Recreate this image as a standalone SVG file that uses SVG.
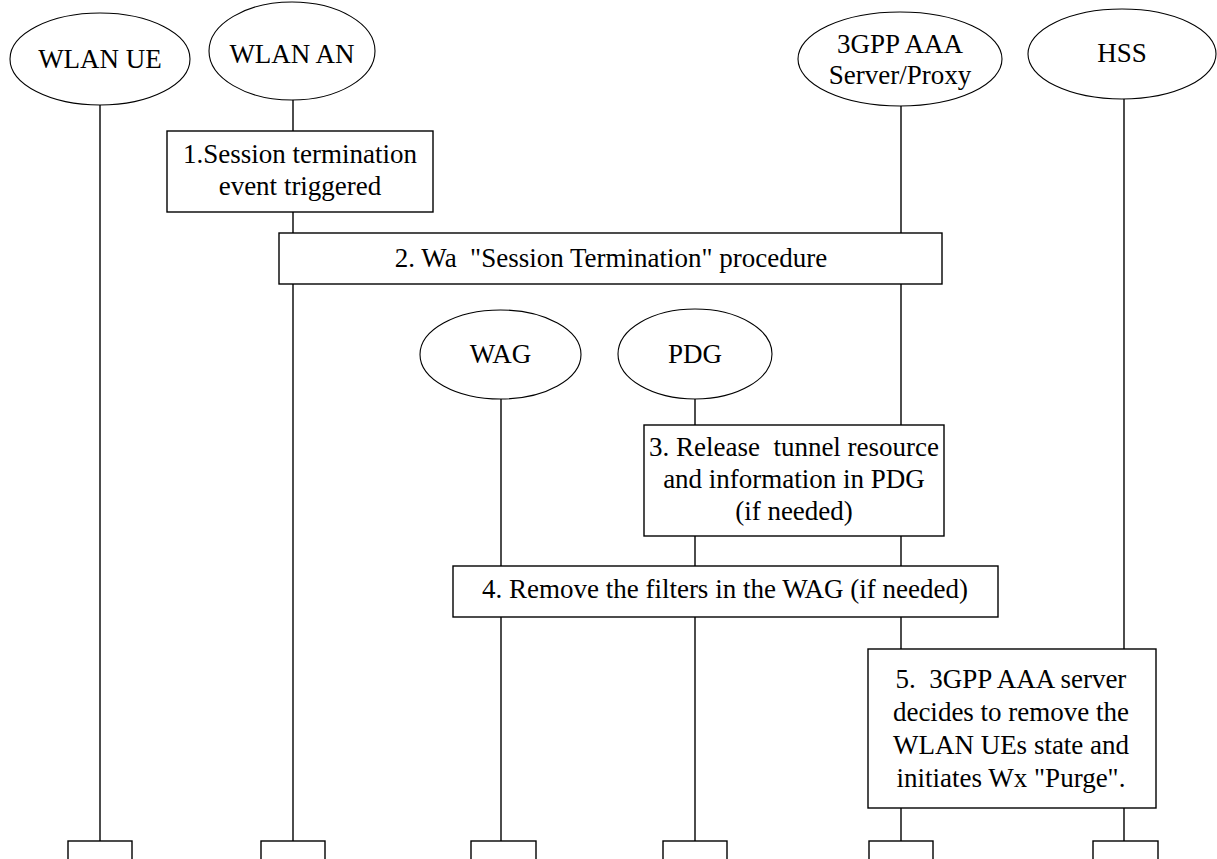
<svg xmlns="http://www.w3.org/2000/svg" width="1217" height="859" viewBox="0 0 1217 859">
<style>
.bg{fill:#fff}
.ell{fill:#fff;stroke:#000;stroke-width:1.1}
.box{fill:#fff;stroke:#000;stroke-width:1.4}
.ll{stroke:#000;stroke-width:1.4;fill:none}
text{font-family:'Liberation Serif','Times New Roman','DejaVu Serif',serif;font-size:27px;fill:#000;text-anchor:middle;white-space:pre}
</style>
<rect class="bg" x="0" y="0" width="1217" height="859"/>
<g id="connectors">
<line class="ll" x1="100" y1="105" x2="100" y2="841"/>
<line class="ll" x1="293" y1="100" x2="293" y2="841"/>
<line class="ll" x1="501" y1="399" x2="501" y2="841"/>
<line class="ll" x1="695" y1="399" x2="695" y2="841"/>
<line class="ll" x1="901" y1="106" x2="901" y2="841"/>
<line class="ll" x1="1124" y1="98" x2="1124" y2="841"/>
</g>
<g id="wlan-ue" font-family="Liberation Serif, serif">
<ellipse class="ell" cx="100" cy="59" rx="90" ry="46"/>
<text x="100" y="68">WLAN UE</text>
</g>
<g id="wlan-an">
<ellipse class="ell" cx="292" cy="51" rx="83" ry="49"/>
<text x="292" y="63">WLAN AN</text>
</g>
<g id="aaa">
<ellipse class="ell" cx="900" cy="59" rx="102" ry="47"/>
<text x="900" y="53">3GPP AAA</text>
<text x="900" y="84">Server/Proxy</text>
</g>
<g id="hss">
<ellipse class="ell" cx="1122" cy="54" rx="94" ry="45"/>
<text x="1122" y="62">HSS</text>
</g>
<g id="wag">
<ellipse class="ell" cx="500.5" cy="354.5" rx="80.5" ry="44.5"/>
<text x="500.5" y="363">WAG</text>
</g>
<g id="pdg">
<ellipse class="ell" cx="695" cy="354" rx="77" ry="45"/>
<text x="695" y="363">PDG</text>
</g>
<g id="step1">
<rect class="box" x="167" y="131" width="266" height="81"/>
<text x="300" y="163">1.Session termination</text>
<text x="300" y="195">event triggered</text>
</g>
<g id="step2">
<rect class="box" x="279" y="233" width="663" height="51"/>
<text x="611" y="267">2. Wa  "Session Termination" procedure</text>
</g>
<g id="step3">
<rect class="box" x="644" y="425" width="300" height="111"/>
<text x="794" y="456">3. Release  tunnel resource</text>
<text x="794" y="488">and information in PDG</text>
<text x="794" y="520">(if needed)</text>
</g>
<g id="step4">
<rect class="box" x="453" y="566" width="545" height="51"/>
<text x="725" y="598">4. Remove the filters in the WAG (if needed)</text>
</g>
<g id="step5">
<rect class="box" x="868" y="649" width="288" height="159"/>
<text x="1011" y="688">5.  3GPP AAA server</text>
<text x="1011" y="721">decides to remove the</text>
<text x="1011" y="754">WLAN UEs state and</text>
<text x="1011" y="787">initiates Wx "Purge".</text>
</g>
<g id="end-boxes">
<rect class="box" x="68" y="841" width="64" height="40"/>
<rect class="box" x="261" y="841" width="64" height="40"/>
<rect class="box" x="471" y="841" width="65" height="40"/>
<rect class="box" x="663" y="841" width="64" height="40"/>
<rect class="box" x="869" y="841" width="64" height="40"/>
<rect class="box" x="1093" y="841" width="65" height="40"/>
</g>
</svg>
